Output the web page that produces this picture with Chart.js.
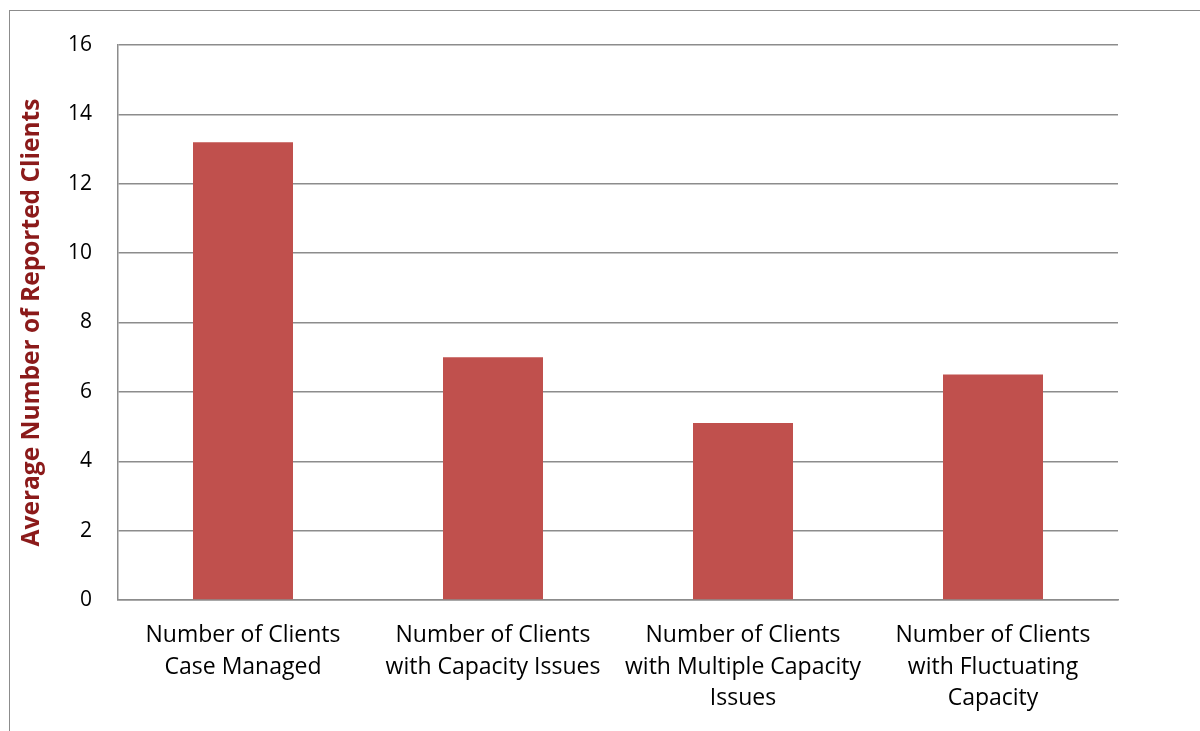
<!DOCTYPE html>
<html>
<head>
<meta charset="utf-8">
<title>Average Number of Reported Clients</title>
<script src="https://cdn.jsdelivr.net/npm/chart.js@4/dist/chart.umd.min.js"></script>
<style>
  html, body { margin: 0; padding: 0; background: #ffffff; overflow: hidden; }
  #wrap { position: relative; width: 1200px; height: 731px; }
  #frame {
    position: absolute; left: 9px; top: 10px; right: -10px; bottom: -10px;
    border-left: 1.5px solid #8c8c8c; border-top: 1.5px solid #8c8c8c;
    pointer-events: none;
  }
  canvas { position: absolute; left: 0; top: 0; }
</style>
</head>
<body>
<div id="wrap">
  <canvas id="chart" width="1200" height="731"></canvas>
  <div id="frame"></div>
</div>
<script>
// Category labels (one array of lines per bar)
const categories = [
  ["Number of Clients", "Case Managed"],
  ["Number of Clients", "with Capacity Issues"],
  ["Number of Clients", "with Multiple Capacity", "Issues"],
  ["Number of Clients", "with Fluctuating", "Capacity"]
];

// Average number of reported clients per category
const averageClients = [13.2, 7.0, 5.1, 6.5];

// Value axis
const yMin = 0;
const yMax = 16;
const yStep = 2;
const yTitle = "Average Number of Reported Clients";

const fontFamily = "'Open Sans', Lato, 'Liberation Sans', sans-serif";

new Chart(document.getElementById("chart"), {
  type: "bar",
  data: {
    labels: categories,
    datasets: [{
      data: averageClients,
      backgroundColor: "#c0504d",
      borderWidth: 0,
      categoryPercentage: 1.0,
      barPercentage: 0.4
    }]
  },
  options: {
    responsive: false,
    animation: false,
    events: [],
    layout: { padding: { top: 45, right: 82, left: 0, bottom: 0 } },
    plugins: {
      legend: { display: false },
      tooltip: { enabled: false }
    },
    scales: {
      x: {
        grid: { display: false, drawTicks: false },
        border: { display: true, color: "#8c8c8c", width: 1.5 },
        ticks: {
          color: "#000000",
          font: { family: fontFamily, size: 23, lineHeight: 1.39 },
          padding: 19,
          maxRotation: 0,
          autoSkip: false
        },
        afterFit: (scale) => { scale.height = 131; }
      },
      y: {
        min: yMin,
        max: yMax,
        grid: { color: "#8c8c8c", lineWidth: 1.5, drawTicks: false },
        border: { display: true, color: "#8c8c8c", width: 1.5 },
        ticks: {
          stepSize: yStep,
          color: "#000000",
          font: { family: fontFamily, size: 21 },
          padding: 26
        },
        title: {
          display: true,
          text: yTitle,
          color: "#8b1a1a",
          font: { family: fontFamily, size: 24.5, weight: "bold" },
          padding: { top: 17, bottom: 0 }
        },
        afterFit: (scale) => { scale.width = 118; }
      }
    }
  }
});
</script>
</body>
</html>
